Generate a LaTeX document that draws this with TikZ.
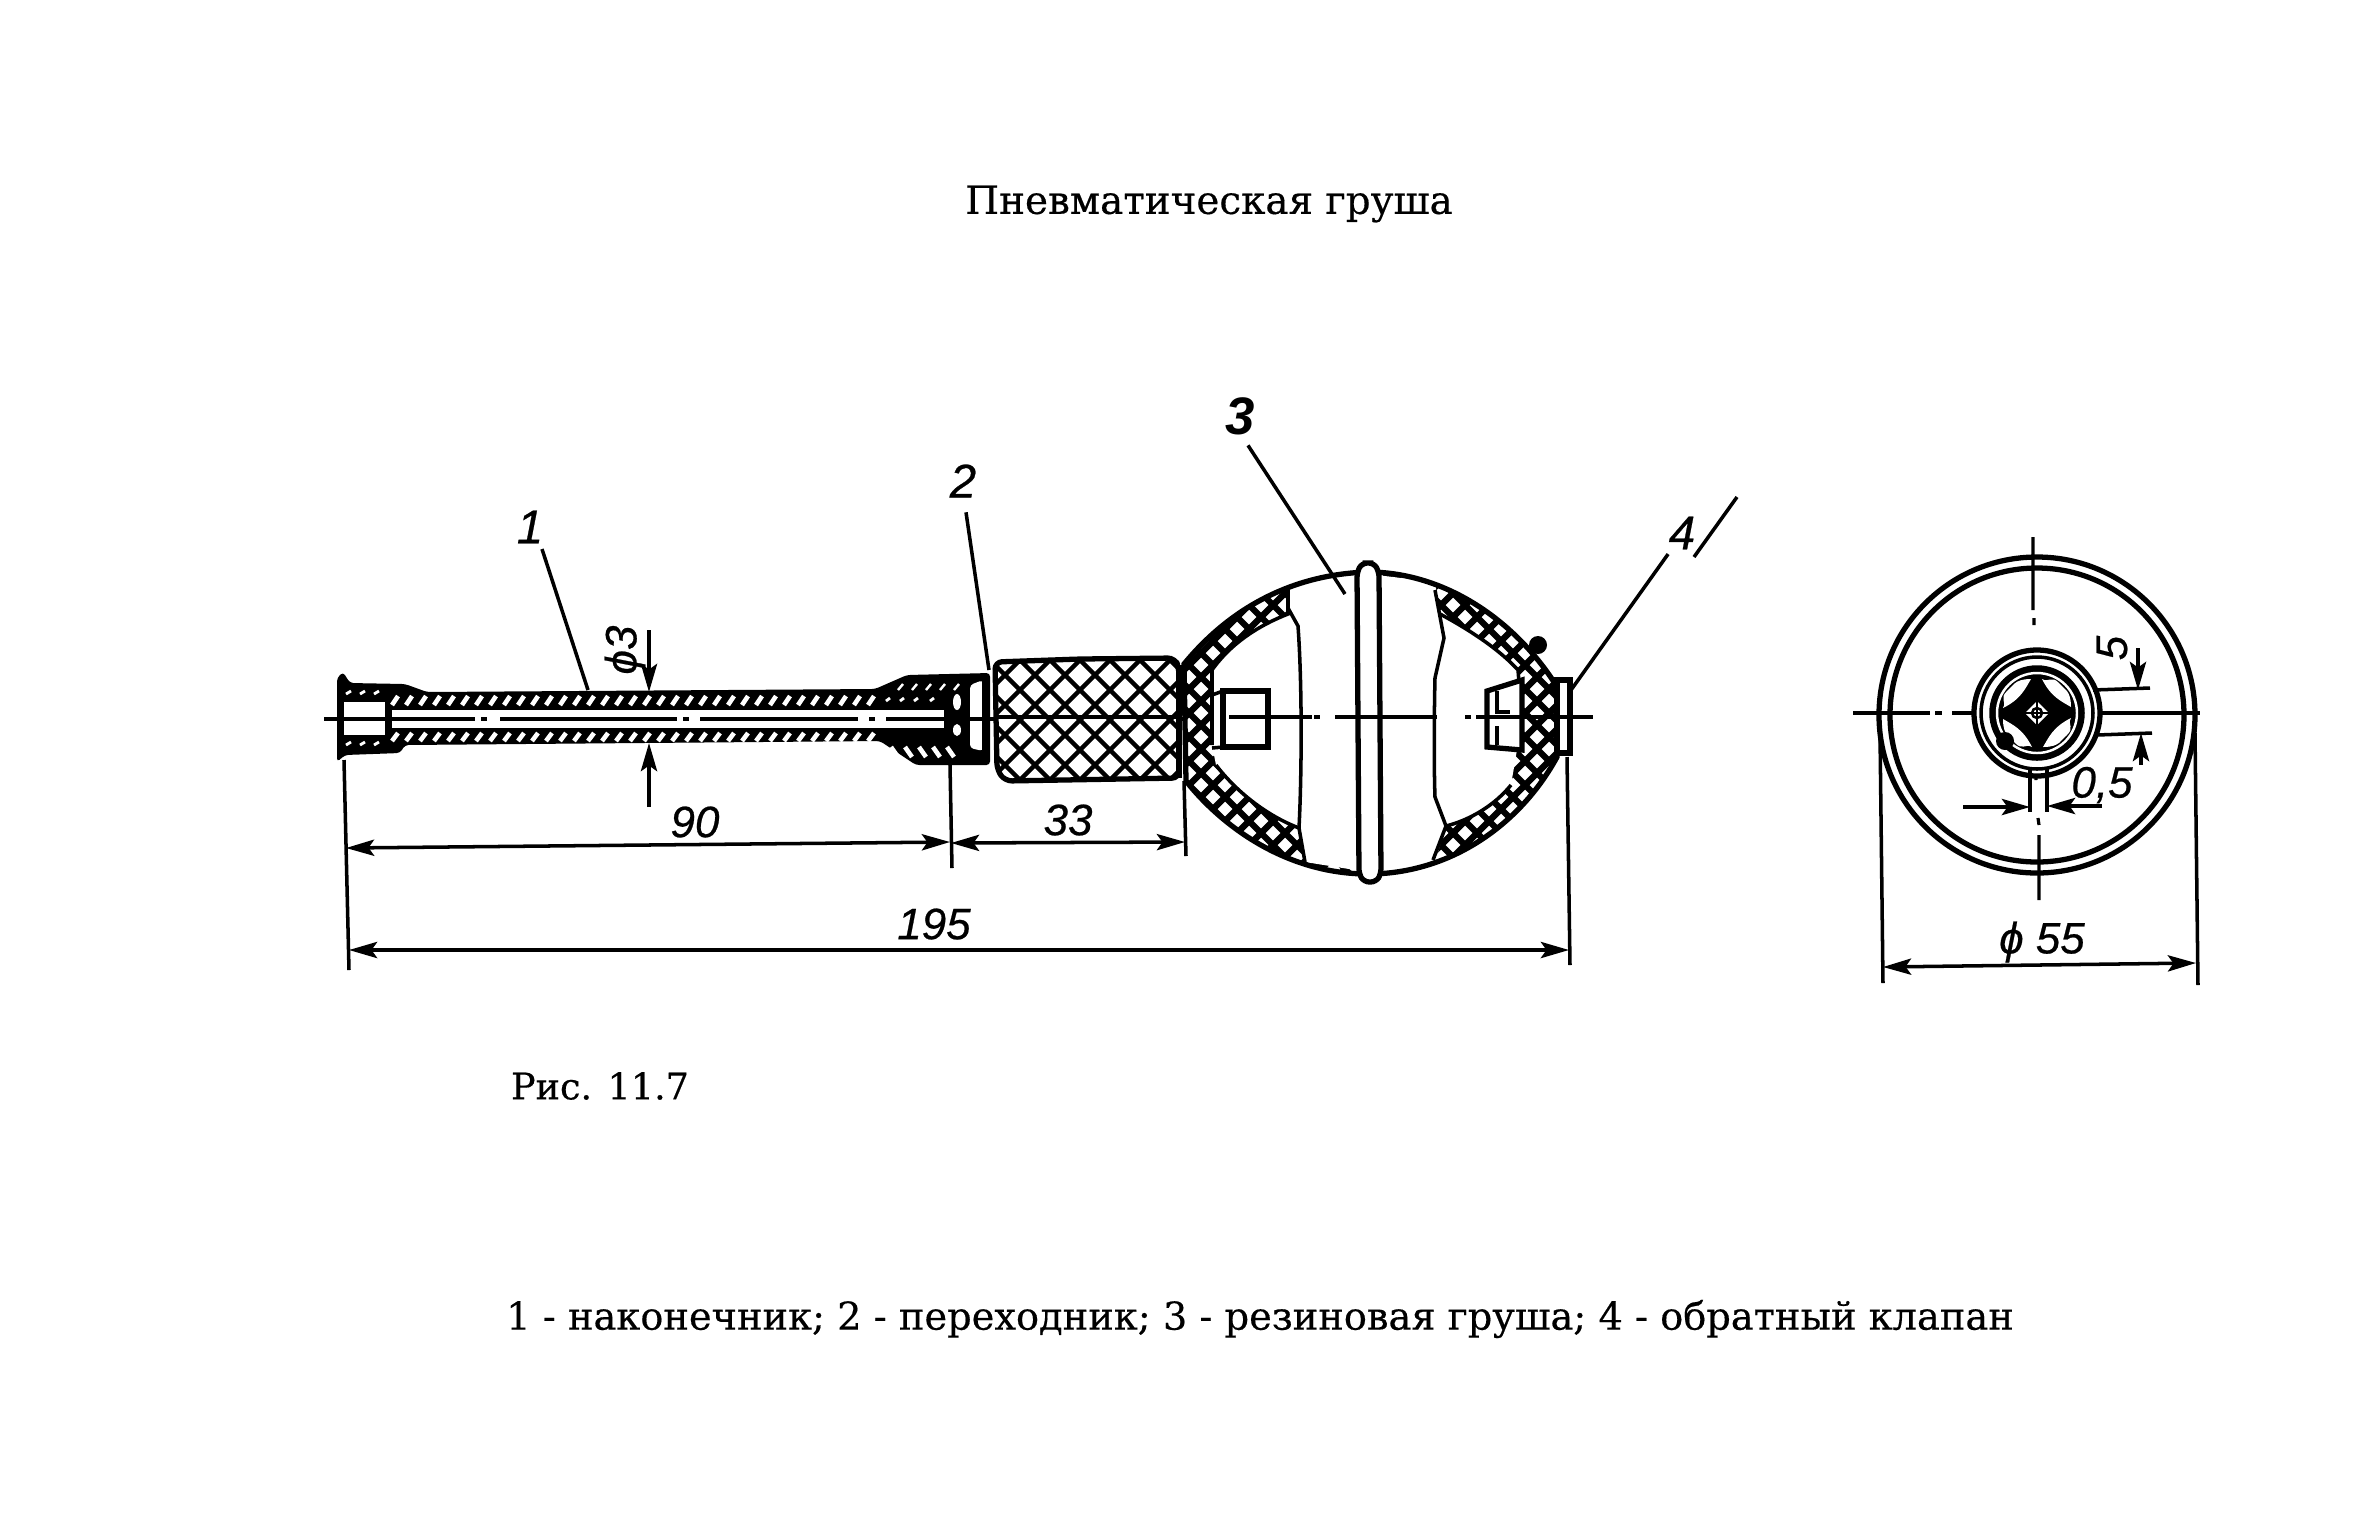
\documentclass[tikz,border=0pt]{standalone}
\usepackage{fontspec}
\setmainfont[FakeBold=0.4]{DejaVu Serif}
\newfontfamily\dimfont[ItalicFeatures={FakeBold=0.5}]{Liberation Sans}
\usetikzlibrary{arrows.meta}
\def\bulbouter{(1184,664) .. controls (1235,602) and (1300,574) .. (1368,572) .. controls (1440,572) and (1510,615) .. (1554,682) -- (1560,720) -- (1557,757) .. controls (1520,825) and (1450,874) .. (1368,874) .. controls (1290,874) and (1225,830) .. (1186,781) -- cycle}
\def\handleedge{(1080,659) -- (1175,658) -- (1179,668) -- (1179,778) -- (1005,781) -- (997,770) -- (995,662) -- cycle}
\begin{document}
\begin{tikzpicture}[x=0.01cm, y=-0.01cm,
                >={Stealth[length=8pt, width=4.6pt, inset=1.6pt]},
                heavy/.style={line width=1.5pt},
                medium/.style={line width=1pt},
                dimline/.style={line width=1pt},
                axisline/.style={line width=0.9pt},
                hatchcut/.style={white, line width=1.3pt},
                mesh/.style={line width=1.25pt},
                wallmesh/.style={line width=1.8pt},
                caption/.style={font=\fontsize{10.9}{13}\selectfont, inner sep=0pt},
                dimtext/.style={font=\dimfont\itshape\fontsize{12.5}{14}\selectfont, inner sep=0pt},
                refnum/.style={font=\dimfont\itshape\fontsize{13.5}{15}\selectfont, inner sep=0pt}]

    \useasboundingbox[fill=white] (0,0) rectangle (2362,1535);

    % captions
    \node[caption, font=\fontsize{11.05}{13}\selectfont] (title) at (1209,204) {Пневматическая груша};
    \node[caption, font=\fontsize{10.4}{13}\selectfont] (fig) at (600,1086) {Рис. 11.7};
    \node[caption] (legend) at (1260,1319) {1 - наконечник; 2 - переходник; 3 - резиновая груша; 4 - обратный клапан};

    % tip and tube
    \fill[rounded corners=1pt] (337,762) -- (337,678) -- (343,672) -- (350,683) -- (405,684) -- (427,692)
        -- (875,689) -- (907,675) -- (990,673) -- (990,765) -- (916,765) -- (880,741) -- (405,745)
        -- (400,753) -- (345,755) -- cycle;
    \fill[white] (344,702) rectangle (385,735);
    \fill[white] (392,710) rectangle (944,728);
    \foreach \x in {392,406,...,875} {
        \draw[hatchcut] (\x,705) -- ++(6,-9);
        \draw[hatchcut] (\x,741) -- ++(6,-8);
    }
    \foreach \x in {346,360,374} {
        \draw[hatchcut, line width=0.8pt] (\x,694) -- ++(5,-3);
        \draw[hatchcut, line width=0.8pt] (\x,745) -- ++(5,-3);
    }
    \foreach \x in {898,912,926,940,954} {
        \draw[hatchcut, line width=0.7pt] (\x,690) -- ++(5,-6);
        \draw[hatchcut] (\x,757) -- ++(-7,-10);
    }
    \foreach \x in {886,900,914,930} \draw[hatchcut, line width=0.8pt] (\x,701) -- ++(4,-3);
    \fill[white] (957,702) circle[x radius=4, y radius=8];
    \fill[white] (957,730) circle[x radius=4, y radius=6];
    \fill[white, rounded corners=1pt] (970,685) -- (983,680) -- (983,751) -- (970,748) -- cycle;

    % tube axis
    \foreach \a/\b in {324/475,481/487,500/677,683/689,700/858,869/875,886/1230} {
        \draw[axisline] (\a,719) -- (\b,719);
    }

    % handle
    \draw[heavy, fill=white, rounded corners=2pt] \handleedge;
    \begin{scope}
        \clip[rounded corners=2pt] \handleedge;
        \foreach \k in {800,830,...,1220} {
            \draw[mesh] (\k,650) -- ++(140,140);
            \draw[mesh] (\k+140,650) -- ++(-140,140);
        }
    \end{scope}
    \draw[axisline] (995,717) -- (1179,717);

    % rubber bulb
    \fill[white] \bulbouter;
    \begin{scope}
        \clip \bulbouter;
        \foreach \k in {700,724,...,1900} {
            \draw[wallmesh] (\k,560) -- ++(330,330);
            \draw[wallmesh] (\k+330,560) -- ++(-330,330);
        }
    \end{scope}
    \fill[white] (1288,580) -- (1368,574) -- (1435,582) -- (1440,614) .. controls (1470,630) and (1500,650) .. (1518,670)
        -- (1522,720) -- (1511,785) .. controls (1495,805) and (1470,820) .. (1446,826) -- (1433,868)
        -- (1368,872) -- (1305,862) -- (1299,828) .. controls (1265,815) and (1235,790) .. (1216,765)
        -- (1212,745) -- (1212,670) .. controls (1232,642) and (1260,625) .. (1288,614) -- cycle;
    \draw[heavy] \bulbouter;
    \draw[medium] (1288,586) -- (1288,614) .. controls (1260,625) and (1232,642) .. (1212,670) -- (1212,745);
    \draw[medium] (1216,765) .. controls (1235,790) and (1265,815) .. (1299,828);
    \draw[medium] (1288,586) -- (1288,608) -- (1298,626) .. controls (1302,680) and (1302,770) .. (1299,828) -- (1305,862);
    \draw[medium] (1435,590) -- (1444,638) -- (1435,678) .. controls (1434,720) and (1434,770) .. (1435,797) -- (1446,826) -- (1433,860);
    \draw[medium] (1440,614) .. controls (1470,630) and (1500,650) .. (1518,670) -- (1522,720);
    \draw[medium] (1446,826) .. controls (1470,820) and (1495,805) .. (1511,785);
    \draw[heavy, fill=white, rounded corners=1.5pt] (1368,563) -- (1374,563) -- (1379,572) -- (1381,874) -- (1376,882) -- (1364,882) -- (1359,874) -- (1357,572) -- (1362,563) -- cycle;
    \fill (1538,645) circle (9);

    % valves and check valve
    \draw[heavy, fill=white] (1223,691) rectangle (1268,747);
    \draw[medium] (1212,695) -- (1223,691) (1212,748) -- (1223,747);
    \draw[heavy, fill=white] (1487,691) -- (1522,680) -- (1522,750) -- (1487,747) -- cycle;
    \draw[medium] (1497,691) -- (1497,712) -- (1510,712) (1497,745) -- (1497,726);
    \draw[heavy, fill=white] (1557,680) -- (1570,680) -- (1570,753) -- (1557,753) -- cycle;
    \foreach \a/\b in {1229/1312,1314/1320,1335/1437,1465/1471,1476/1593} {
        \draw[axisline] (\a,717) -- (\b,717);
    }
    \draw[heavy] (985,678) -- (985,751);
    \draw[heavy] (1179,665) -- (1179,778);

    % end view
    \draw[heavy] (2037,715) circle (158);
    \draw[heavy] (2037,715) circle (147);
    \draw[axisline] (1853,713) -- (1930,713) (1935,713) -- (1942,713) (1952,713) -- (2200,713);
    \draw[axisline] (2033,537) -- (2033,610) (2034,618) -- (2034,625) (2034,650) -- (2036,780) (2038,818) -- (2039,825) (2039,835) -- (2039,900);
    \begin{scope}[shift={(2037,713)}]
        \draw[heavy, fill=white] (0,0) circle (63);
        \draw[medium] (0,0) circle (56);
        \draw[medium, fill=black] (0,0) circle (46);
        \draw[white, line width=0.7pt] (0,0) circle (40);
        \foreach \a in {0,90,180,270} {
            \fill[white, rotate=\a] (5,-34) .. controls (12,-30) and (14,-38) .. (22,-30)
                .. controls (26,-24) and (34,-24) .. (34,-6) .. controls (24,-12) and (14,-16) .. cycle;
        }
        \fill[white] (-12,0) -- (0,-12) -- (12,0) -- (0,12) -- cycle;
        \draw[line width=0.7pt] (0,0) circle (5);
        \draw[line width=0.7pt] (-12,0) -- (12,0) (0,-12) -- (0,12);
        \fill (-32,28) circle (9);
    \end{scope}

    % named ends of leaders and dimension lines
    \coordinate (tubeTop) at (588,690);
    \coordinate (adapterTop) at (989,670);
    \coordinate (bulbIn) at (1345,594);
    \coordinate (valveTop) at (1571,690);
    \coordinate (extA) at (344,760);
    \coordinate (extAb) at (349,970);
    \coordinate (extB) at (950,765);
    \coordinate (extBb) at (952,868);
    \coordinate (extC) at (1184,781);
    \coordinate (extCb) at (1186,856);
    \coordinate (extD) at (1567,757);
    \coordinate (extDb) at (1570,965);
    \coordinate (dimAl) at (346,848);
    \coordinate (dimAr) at (950,842);
    \coordinate (dimBl) at (951,843);
    \coordinate (dimBr) at (1185,842);
    \coordinate (dimCl) at (349,950);
    \coordinate (dimCr) at (1569,950);
    \coordinate (boreUp) at (649,630);
    \coordinate (boreUpT) at (649,692);
    \coordinate (boreDn) at (649,807);
    \coordinate (boreDnT) at (649,743);

    % reference numbers
    \node[refnum] (num1) at (530,527) {1};
    \node[refnum] (num2) at (963,481) {2};
    \node[refnum, font=\dimfont\bfseries\itshape\fontsize{15}{16}\selectfont] (num3) at (1240,416) {3};
    \node[refnum] (num4) at (1682,533) {4};
    \coordinate (slashA) at (1694,557);
    \coordinate (slashB) at (1737,497);
    \draw[dimline] (num1.south) ++(12,5) -- (tubeTop);
    \draw[dimline] (num2.south) ++(3,14) -- (adapterTop);
    \draw[dimline] (num3.south) ++(8,10) -- (bulbIn);
    \draw[dimline] (num4.south west) ++(0,4) -- (valveTop);
    \draw[dimline] (slashA) -- (slashB);

    % dimensions
    \draw[dimline] (extA) -- (extAb);
    \draw[dimline] (extB) -- (extBb);
    \draw[dimline] (extC) -- (extCb);
    \draw[dimline] (extD) -- (extDb);
    \draw[dimline, <->] (dimAl) -- (dimAr);
    \draw[dimline, <->] (dimBl) -- (dimBr);
    \draw[dimline, <->] (dimCl) -- (dimCr);
    \draw[dimline, ->] (boreUp) -- (boreUpT);
    \draw[dimline, ->] (boreDn) -- (boreDnT);
    \node[dimtext, rotate=90] (dimBore) at (625,650) {ϕ3};
    \node[dimtext] (dim90) at (695,822) {90};
    \node[dimtext] (dim33) at (1068,820) {33};
    \node[dimtext] (dim195) at (934,924) {195};

    % end view dimensions
    \coordinate (extE) at (1880,733);
    \coordinate (extEb) at (1883,983);
    \coordinate (extF) at (2195,733);
    \coordinate (extFb) at (2198,985);
    \coordinate (dimDl) at (1883,967);
    \coordinate (dimDr) at (2196,963);
    \coordinate (tickA) at (2093,690);
    \coordinate (tickAb) at (2150,688);
    \coordinate (tickB) at (2097,735);
    \coordinate (tickBb) at (2152,733);
    \coordinate (fiveUp) at (2138,648);
    \coordinate (fiveUpT) at (2138,690);
    \coordinate (fiveDn) at (2141,765);
    \coordinate (fiveDnT) at (2141,733);
    \coordinate (slotL) at (2030,767);
    \coordinate (slotLb) at (2030,812);
    \coordinate (slotR) at (2047,767);
    \coordinate (slotRb) at (2047,812);
    \coordinate (slotLo) at (1963,807);
    \coordinate (slotRo) at (2102,806);
    \draw[dimline] (extE) -- (extEb);
    \draw[dimline] (extF) -- (extFb);
    \draw[dimline] (tickA) -- (tickAb);
    \draw[dimline] (tickB) -- (tickBb);
    \draw[dimline] (slotL) -- (slotLb);
    \draw[dimline] (slotR) -- (slotRb);
    \draw[dimline, <->] (dimDl) -- (dimDr);
    \draw[dimline, ->] (fiveUp) -- (fiveUpT);
    \draw[dimline, ->] (fiveDn) -- (fiveDnT);
    \draw[dimline, ->] (slotLo) -- (slotL |- slotLo);
    \draw[dimline, ->] (slotRo) -- (slotR |- slotRo);
    \node[dimtext, rotate=90] (dimFive) at (2112,648) {5};
    \node[dimtext] (dimSlot) at (2102,785) {0,5};
    \node[dimtext] (dimDia) at (2042,942) {ϕ 55};
\end{tikzpicture}
\end{document}
